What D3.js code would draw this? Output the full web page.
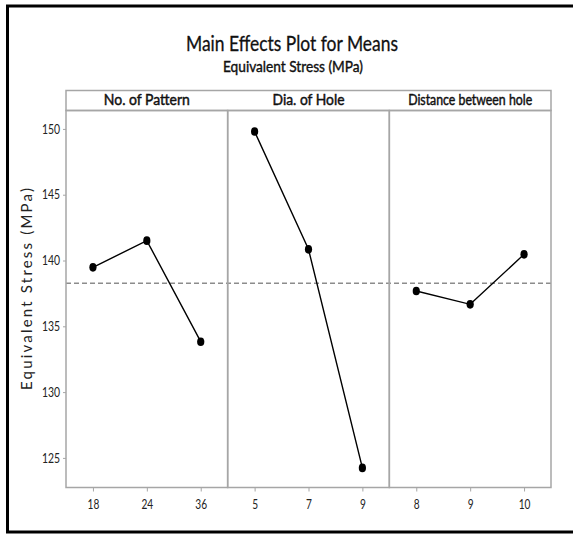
<!DOCTYPE html>
<html><head><meta charset="utf-8">
<script src="https://cdn.jsdelivr.net/npm/d3@7"></script>
<style>body{margin:0;background:#fff}svg{display:block}</style>
</head><body>
<script>
const title = "Main Effects Plot for Means";
const subtitle = "Equivalent Stress (MPa)";
const yLabel = "Equivalent Stress (MPa)";
const factors = ["No. of Pattern", "Dia. of Hole", "Distance between hole"];
const levelsPattern = ["18", "24", "36"];
const levelsDia = ["5", "7", "9"];
const levelsDist = ["8", "9", "10"];
const meansPattern = [139.48, 141.51, 133.83];
const meansDia = [149.80, 140.85, 124.24];
const meansDist = [137.68, 136.67, 140.47];
const grandMean = 138.28;
const yTicks = [125, 130, 135, 140, 145, 150];
const yDomain = [122.75, 151.4];

(function () {
const W = 573, H = 534;
const svg = d3.select("body").append("svg").attr("width", W).attr("height", H);
const sans = "Lato,'Open Sans',sans-serif";

svg.append("rect").attr("x", 7.5).attr("y", 6).attr("width", 600).attr("height", 526)
  .attr("fill", "none").attr("stroke", "#000").attr("stroke-width", 3);

svg.append("text").attr("x", 292).attr("y", 51).attr("text-anchor", "middle")
  .attr("font-family", sans).attr("font-size", 21).attr("fill", "#111")
  .attr("stroke", "#111").attr("stroke-width", 0.3)
  .attr("textLength", 212).attr("lengthAdjust", "spacingAndGlyphs").text(title);
svg.append("text").attr("x", 293).attr("y", 72).attr("text-anchor", "middle")
  .attr("font-family", sans).attr("font-size", 15).attr("fill", "#111")
  .attr("stroke", "#111").attr("stroke-width", 0.4)
  .attr("textLength", 140).attr("lengthAdjust", "spacingAndGlyphs").text(subtitle);

const pl = 66, pr = 551, pt = 110.5, pb = 487.5, stripTop = 90.5;
const panelX = d3.scaleBand().domain(factors).range([pl, pr]).paddingInner(0).paddingOuter(0);
const y = d3.scaleLinear().domain(yDomain).range([pb, pt]);

const panels = [
  {name: factors[0], levels: levelsPattern, means: meansPattern, tw: 86},
  {name: factors[1], levels: levelsDia, means: meansDia, tw: 72},
  {name: factors[2], levels: levelsDist, means: meansDist, tw: 124}
];

const grey = "#a6a6a6";

function squeeze(sel, k) {
  sel.each(function () {
    const w = this.getComputedTextLength();
    d3.select(this).attr("textLength", w * k).attr("lengthAdjust", "spacingAndGlyphs");
  });
}

svg.append("rect").attr("x", pl).attr("y", stripTop).attr("width", pr - pl).attr("height", pt - stripTop)
  .attr("fill", "#fff").attr("stroke", grey).attr("stroke-width", 1.5);

svg.append("line").attr("x1", pl).attr("x2", pr).attr("y1", y(grandMean)).attr("y2", y(grandMean))
  .attr("stroke", "#8c8c8c").attr("stroke-width", 1.5).attr("stroke-dasharray", "5,3");

panels.forEach(p => {
  const x0 = panelX(p.name), bw = panelX.bandwidth();
  const x = d3.scalePoint().domain(p.levels).range([x0, x0 + bw]).padding(0.5);
  svg.append("text").attr("x", x0 + bw / 2).attr("y", 105).attr("text-anchor", "middle")
    .attr("font-family", sans).attr("font-size", 14.5).attr("fill", "#111")
    .attr("stroke", "#111").attr("stroke-width", 0.45)
    .attr("textLength", p.tw).attr("lengthAdjust", "spacingAndGlyphs").text(p.name);
  svg.append("rect").attr("x", x0).attr("y", pt).attr("width", bw).attr("height", pb - pt)
    .attr("fill", "none").attr("stroke", grey).attr("stroke-width", 1.5);
  const ax = svg.append("g").attr("transform", `translate(0,${pb})`)
    .call(d3.axisBottom(x).tickSize(4).tickPadding(5));
  ax.select(".domain").remove();
  ax.selectAll("line").attr("stroke", grey);
  ax.selectAll("text").attr("font-family", sans).attr("font-size", 13.5).attr("fill", "#222")
    .attr("dy", "0.95em").call(squeeze, 0.75);
  const pts = p.levels.map((l, i) => [x(l), y(p.means[i])]);
  svg.append("path").attr("d", d3.line()(pts)).attr("fill", "none")
    .attr("stroke", "#000").attr("stroke-width", 1.4);
  svg.selectAll(null).data(pts).enter().append("ellipse")
    .attr("cx", d => d[0]).attr("cy", d => d[1]).attr("rx", 3.6).attr("ry", 4.3).attr("fill", "#000");
});

const ay = svg.append("g").attr("transform", `translate(${pl},0)`)
  .call(d3.axisLeft(y).tickValues(yTicks).tickSize(3).tickPadding(3));
ay.select(".domain").remove();
ay.selectAll("line").attr("stroke", grey);
ay.selectAll("text").attr("font-family", sans).attr("font-size", 13).attr("fill", "#222").call(squeeze, 0.8);

svg.append("text").attr("transform", "translate(32,289) rotate(-90)").attr("text-anchor", "middle")
  .attr("font-family", sans).attr("font-size", 15).attr("fill", "#222")
  .attr("textLength", 202).attr("lengthAdjust", "spacing").text(yLabel);
})();
</script>
</body></html>
